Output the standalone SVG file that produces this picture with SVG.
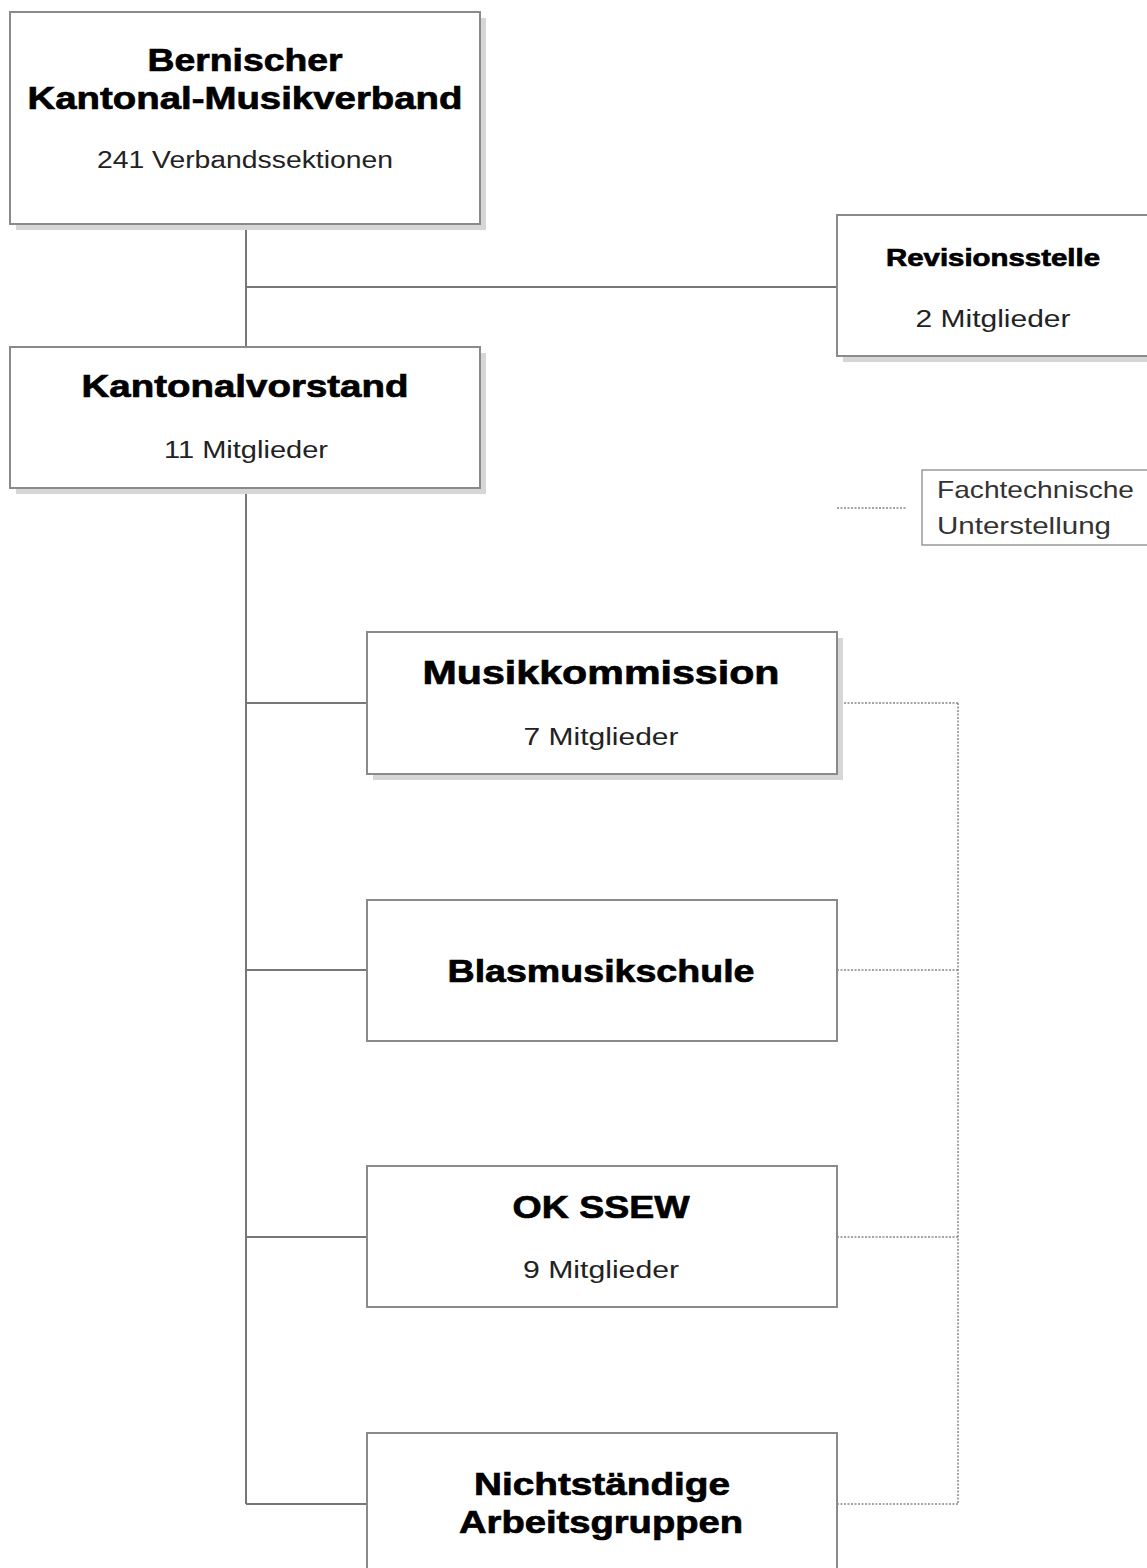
<svg xmlns="http://www.w3.org/2000/svg" width="1147" height="1568" viewBox="0 0 1147 1568">
<style>
.box{fill:#fff;stroke:#8a8a8a;stroke-width:2}
.sh{fill:#d6d6d6}
.t{font-family:"Liberation Sans",Arial,sans-serif;font-weight:bold;fill:#000;stroke:#000;stroke-width:0.7;text-anchor:middle}
.s{font-family:"Liberation Sans",Arial,sans-serif;fill:#222;text-anchor:middle;font-size:23px}
.ln{stroke:#777;stroke-width:2;fill:none}
.dl{stroke:#888;stroke-width:1.5;fill:none;stroke-dasharray:2 1.5}
</style>
<rect width="1147" height="1568" fill="#fff"/>
<g id="connectors">
<path class="ln" d="M246 224V347M246 287H837M246 488V1504M246 703H367M246 970H367M246 1237H367M246 1504H367"/>
<path class="dl" d="M837 703H958M837 970H958M837 1237H958M837 1504H958M958 703V1504M837 508H907"/>
</g>
<g id="verband">
<rect class="sh" x="16" y="18" width="470" height="212"/>
<rect class="box" x="10" y="12" width="470" height="212"/>
<text class="t" x="245" y="71" font-size="32" textLength="195" lengthAdjust="spacingAndGlyphs">Bernischer</text>
<text class="t" x="245" y="109" font-size="32" textLength="435" lengthAdjust="spacingAndGlyphs">Kantonal-Musikverband</text>
<text class="s" x="245" y="168" textLength="296" lengthAdjust="spacingAndGlyphs">241 Verbandssektionen</text>
</g>
<g id="revision">
<rect class="sh" x="843" y="221" width="310" height="141"/>
<rect class="box" x="837" y="215" width="320" height="141"/>
<text class="t" x="993" y="266" font-size="24" textLength="214" lengthAdjust="spacingAndGlyphs">Revisionsstelle</text>
<text class="s" x="993" y="327" textLength="155" lengthAdjust="spacingAndGlyphs">2 Mitglieder</text>
</g>
<g id="vorstand">
<rect class="sh" x="16" y="353" width="470" height="141"/>
<rect class="box" x="10" y="347" width="470" height="141"/>
<text class="t" x="245" y="397" font-size="32" textLength="327" lengthAdjust="spacingAndGlyphs">Kantonalvorstand</text>
<text class="s" x="246" y="458" textLength="164" lengthAdjust="spacingAndGlyphs">11 Mitglieder</text>
</g>
<g id="legende">
<rect x="922" y="470" width="230" height="75" fill="#fff" stroke="#999" stroke-width="1.5"/>
<text x="937" y="498" font-family="Liberation Sans,Arial,sans-serif" font-size="24" fill="#333" textLength="197" lengthAdjust="spacingAndGlyphs">Fachtechnische</text>
<text x="937" y="534" font-family="Liberation Sans,Arial,sans-serif" font-size="24" fill="#333" textLength="174" lengthAdjust="spacingAndGlyphs">Unterstellung</text>
</g>
<g id="musikkommission">
<rect class="sh" x="373" y="638" width="470" height="142"/>
<rect class="box" x="367" y="632" width="470" height="142"/>
<text class="t" x="601" y="684" font-size="34" textLength="357" lengthAdjust="spacingAndGlyphs">Musikkommission</text>
<text class="s" x="601" y="745" textLength="155" lengthAdjust="spacingAndGlyphs">7 Mitglieder</text>
</g>
<g id="blasmusikschule">
<rect class="box" x="367" y="900" width="470" height="141"/>
<text class="t" x="601" y="982" font-size="32" textLength="307" lengthAdjust="spacingAndGlyphs">Blasmusikschule</text>
</g>
<g id="okssew">
<rect class="box" x="367" y="1166" width="470" height="141"/>
<text class="t" x="601" y="1218" font-size="32" textLength="177" lengthAdjust="spacingAndGlyphs">OK SSEW</text>
<text class="s" x="601" y="1278" textLength="156" lengthAdjust="spacingAndGlyphs">9 Mitglieder</text>
</g>
<g id="arbeitsgruppen">
<rect class="box" x="367" y="1433" width="470" height="150"/>
<text class="t" x="602" y="1495" font-size="32" textLength="256" lengthAdjust="spacingAndGlyphs">Nichtständige</text>
<text class="t" x="601" y="1533" font-size="32" textLength="284" lengthAdjust="spacingAndGlyphs">Arbeitsgruppen</text>
</g>
</svg>
